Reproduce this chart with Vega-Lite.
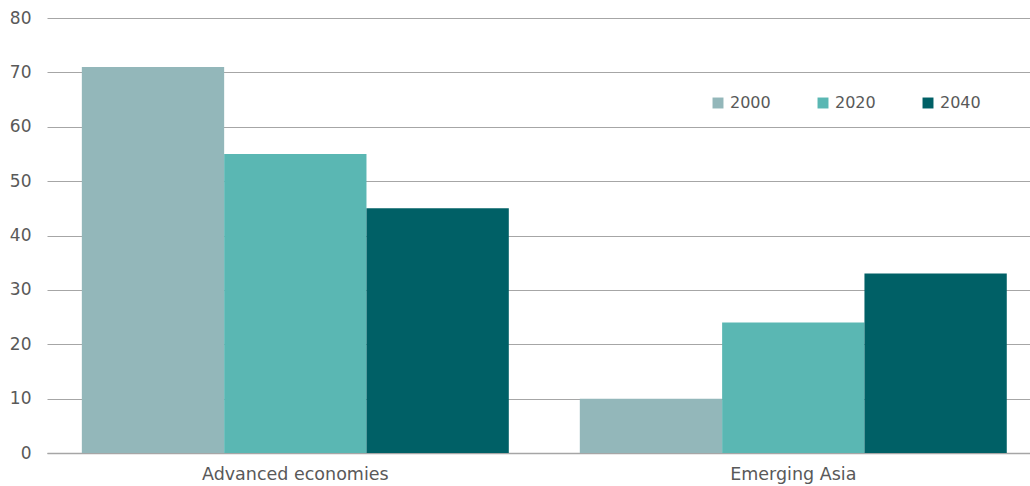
{
  "$schema": "https://vega.github.io/schema/vega-lite/v6.json",
  "width": 983,
  "height": 435,
  "autosize": "none",
  "padding": {"left": 47, "top": 18, "right": 0, "bottom": 33},
  "background": "white",
  "data": {
    "values": [
      {"region": "Advanced economies", "year": "2000", "value": 71},
      {"region": "Advanced economies", "year": "2020", "value": 55},
      {"region": "Advanced economies", "year": "2040", "value": 45},
      {"region": "Emerging Asia", "year": "2000", "value": 10},
      {"region": "Emerging Asia", "year": "2020", "value": 24},
      {"region": "Emerging Asia", "year": "2040", "value": 33}
    ]
  },
  "config": {
    "font": "DejaVu Sans",
    "view": {"stroke": null},
    "axis": {"labelColor": "#595959", "labelFont": "DejaVu Sans"},
    "legend": {"labelColor": "#595959", "labelFontSize": 16}
  },
  "mark": {"type": "bar"},
  "encoding": {
    "x": {
      "field": "region",
      "type": "nominal",
      "sort": ["Advanced economies", "Emerging Asia"],
      "scale": {"paddingInner": 0.1426, "paddingOuter": 0.0583, "align": 0.6},
      "axis": {
        "title": null,
        "labelAngle": 0,
        "labelFontSize": 17.5,
        "labelLimit": 0,
        "ticks": false,
        "domainColor": "#A6A6A6",
        "domainWidth": 1.5,
        "labelPadding": 12,
        "grid": false
      }
    },
    "xOffset": {"field": "year", "type": "nominal", "sort": ["2000", "2020", "2040"], "scale": {"paddingInner": 0, "paddingOuter": 0}},
    "y": {
      "field": "value",
      "type": "quantitative",
      "scale": {"domain": [0, 80], "nice": false},
      "axis": {
        "title": null,
        "values": [0, 10, 20, 30, 40, 50, 60, 70, 80],
        "labelFontSize": 17,
        "ticks": false,
        "domain": false,
        "grid": true,
        "gridColor": "#A6A6A6",
        "gridWidth": 1,
        "labelPadding": 16
      }
    },
    "color": {
      "field": "year",
      "type": "nominal",
      "sort": ["2000", "2020", "2040"],
      "scale": {"domain": ["2000", "2020", "2040"], "range": ["#93B7BA", "#5AB7B3", "#006066"]},
      "legend": {
        "title": null,
        "orient": "none",
        "direction": "horizontal",
        "legendX": 663,
        "legendY": 77,
        "symbolType": "square",
        "symbolSize": 120,
        "symbolStrokeWidth": 0,
        "symbolOpacity": 1,
        "labelOffset": 4,
        "columnPadding": 44,
        "padding": 0
      }
    }
  }
}
